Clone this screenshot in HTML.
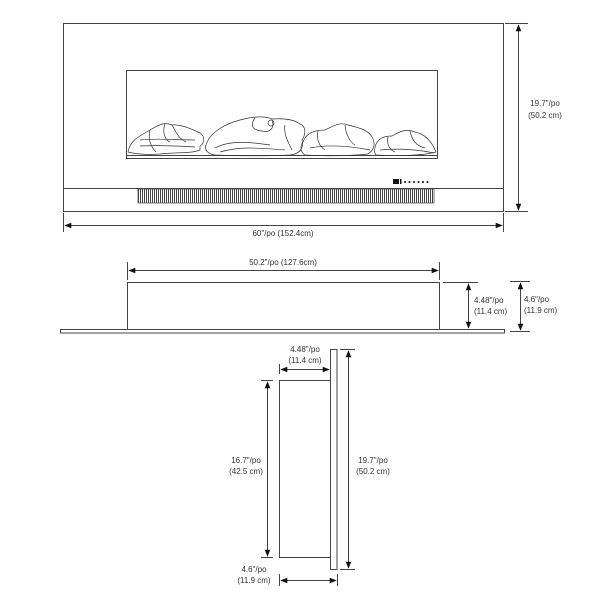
<!DOCTYPE html>
<html><head><meta charset="utf-8"><style>
html,body{margin:0;padding:0;background:#fff;}
svg{display:block}
text{font-family:"Liberation Sans",sans-serif;font-size:8px;fill:#333;}
</style></head><body>
<svg width="600" height="600" viewBox="0 0 600 600" xmlns="http://www.w3.org/2000/svg">
<defs>
<marker id="a" viewBox="0 0 10 10" refX="9" refY="5" markerWidth="7" markerHeight="7" orient="auto-start-reverse"><path d="M0,1 L10,5 L0,9 z" fill="#111"/></marker>
<pattern id="v" width="2" height="20" patternUnits="userSpaceOnUse"><rect width="1" height="20" fill="#444"/></pattern>
</defs>
<g stroke="#444" fill="none" stroke-width="1">
<!-- front view -->
<rect x="63.5" y="23.5" width="440" height="188"/>
<line x1="63" y1="188.5" x2="503" y2="188.5"/>
<rect x="126.5" y="70.5" width="311" height="88"/>
<line x1="127" y1="155.5" x2="437" y2="155.5"/>
</g>
<rect x="138" y="189" width="296" height="14" fill="url(#v)" stroke="#444" stroke-width="0.7"/>
<rect x="393" y="179" width="6" height="5" fill="#111"/>
<rect x="400" y="179" width="1.5" height="5" fill="#111"/>
<g fill="#111"><circle cx="405" cy="182" r="1"/><circle cx="409.5" cy="182" r="1"/><circle cx="414" cy="182" r="1"/><circle cx="418.5" cy="182" r="1"/><circle cx="423" cy="182" r="1"/><circle cx="427.5" cy="182" r="1"/></g>
<!-- logs -->
<g stroke="#333" fill="none" stroke-width="0.7">
<path d="M128,152 C130,140 140,136 150,130 C160,124 165,122 172,125 C180,124 190,128 200,133 C205,136 205,143 200,146 L200,150 C190,154 175,152 160,154 C148,155 135,154 128,152"/>
<path d="M150,130 C148,138 150,146 156,152 M165,124 C162,132 165,140 170,142 M172,125 C176,132 178,138 186,142 M140,140 C155,138 175,140 195,140 M140,146 C160,145 180,146 195,147"/>
<path d="M206,145 C210,132 225,124 240,120 C255,116 265,116 272,119 C285,118 295,120 300,124 C306,126 306,134 302,140 C304,148 300,154 290,155 C270,156 240,156 215,155 C208,154 204,150 206,145"/>
<path d="M255,118 C250,125 252,130 262,131 C270,133 275,128 272,120 M268,123 a3,3 0 1,0 6,0 a3,3 0 1,0 -6,0 M215,148 C230,140 250,142 270,145 M220,152 C240,146 260,148 285,150 M285,125 C283,135 290,145 292,150"/>
<path d="M303,142 C306,133 315,130 325,130 C335,125 340,122 348,125 C360,128 368,130 372,137 C376,144 374,150 368,154 C350,156 325,156 305,155 C300,152 300,146 303,142"/>
<path d="M318,131 C316,140 320,147 325,150 M345,125 C346,135 350,142 355,145 M310,148 C330,144 350,146 370,150"/>
<path d="M375,148 C376,140 382,136 392,136 C402,130 408,129 415,132 C425,134 432,142 436,152 C420,156 400,156 376,155 C374,152 374,150 375,148"/>
<path d="M388,137 C386,144 390,150 395,152 M410,131 C412,140 416,146 425,148 M380,150 C400,148 420,150 434,153"/>
</g>
<!-- front dims -->
<g stroke="#444" stroke-width="1">
<line x1="505" y1="23.5" x2="528" y2="23.5"/><line x1="505" y1="211.5" x2="528" y2="211.5"/>
<line x1="518.5" y1="25" x2="518.5" y2="210" marker-start="url(#a)" marker-end="url(#a)"/>
<line x1="63.5" y1="213" x2="63.5" y2="232"/><line x1="503.5" y1="213" x2="503.5" y2="232"/>
<line x1="65" y1="225.5" x2="502" y2="225.5" marker-start="url(#a)" marker-end="url(#a)"/>
</g>
<text x="545" y="106" text-anchor="middle">19.7"/po</text>
<text x="545" y="118" text-anchor="middle">(50.2 cm)</text>
<text x="283" y="236" text-anchor="middle">60"/po (152.4cm)</text>
<!-- top view -->
<g stroke="#444" stroke-width="1" fill="none">
<rect x="127.5" y="282.5" width="312" height="47"/>
<rect x="60.5" y="329.5" width="444" height="3.5"/>
<line x1="127.5" y1="262" x2="127.5" y2="280"/><line x1="439.5" y1="262" x2="439.5" y2="280"/>
<line x1="129" y1="270.5" x2="438" y2="270.5" marker-start="url(#a)" marker-end="url(#a)"/>
<line x1="443" y1="282.5" x2="478" y2="282.5"/>
<line x1="468.5" y1="284" x2="468.5" y2="328" marker-start="url(#a)" marker-end="url(#a)"/>
<line x1="510" y1="281.5" x2="530" y2="281.5"/><line x1="510" y1="331.5" x2="530" y2="331.5"/>
<line x1="520.5" y1="283" x2="520.5" y2="330" marker-start="url(#a)" marker-end="url(#a)"/>
</g>
<text x="283" y="265" text-anchor="middle">50.2"/po (127.6cm)</text>
<text x="474" y="303">4.48"/po</text>
<text x="474" y="314">(11.4 cm)</text>
<text x="524" y="302">4.6"/po</text>
<text x="524" y="313">(11.9 cm)</text>
<!-- side view -->
<g stroke="#444" stroke-width="1" fill="none">
<rect x="330.5" y="349.5" width="6.5" height="220"/>
<rect x="279.5" y="380.5" width="51" height="177"/>
<line x1="261" y1="380.5" x2="273" y2="380.5"/><line x1="261" y1="557.5" x2="273" y2="557.5"/>
<line x1="267.5" y1="382" x2="267.5" y2="556" marker-start="url(#a)" marker-end="url(#a)"/>
<line x1="340" y1="349.5" x2="355" y2="349.5"/><line x1="340" y1="569.5" x2="355" y2="569.5"/>
<line x1="348.5" y1="351" x2="348.5" y2="568" marker-start="url(#a)" marker-end="url(#a)"/>
<line x1="279.5" y1="364" x2="279.5" y2="374"/>
<line x1="281" y1="369.5" x2="329" y2="369.5" marker-start="url(#a)" marker-end="url(#a)"/>
<line x1="279.5" y1="574" x2="279.5" y2="586"/><line x1="337.5" y1="574" x2="337.5" y2="586"/>
<line x1="281" y1="580.5" x2="336" y2="580.5" marker-start="url(#a)" marker-end="url(#a)"/>
</g>
<text x="305" y="352" text-anchor="middle">4.48"/po</text>
<text x="305" y="363" text-anchor="middle">(11.4 cm)</text>
<text x="246" y="463" text-anchor="middle">16.7"/po</text>
<text x="246" y="474" text-anchor="middle">(42.5 cm)</text>
<text x="373" y="463" text-anchor="middle">19.7"/po</text>
<text x="373" y="474" text-anchor="middle">(50.2 cm)</text>
<text x="254" y="572" text-anchor="middle">4.6"/po</text>
<text x="254" y="583" text-anchor="middle">(11.9 cm)</text>
</svg>
</body></html>
